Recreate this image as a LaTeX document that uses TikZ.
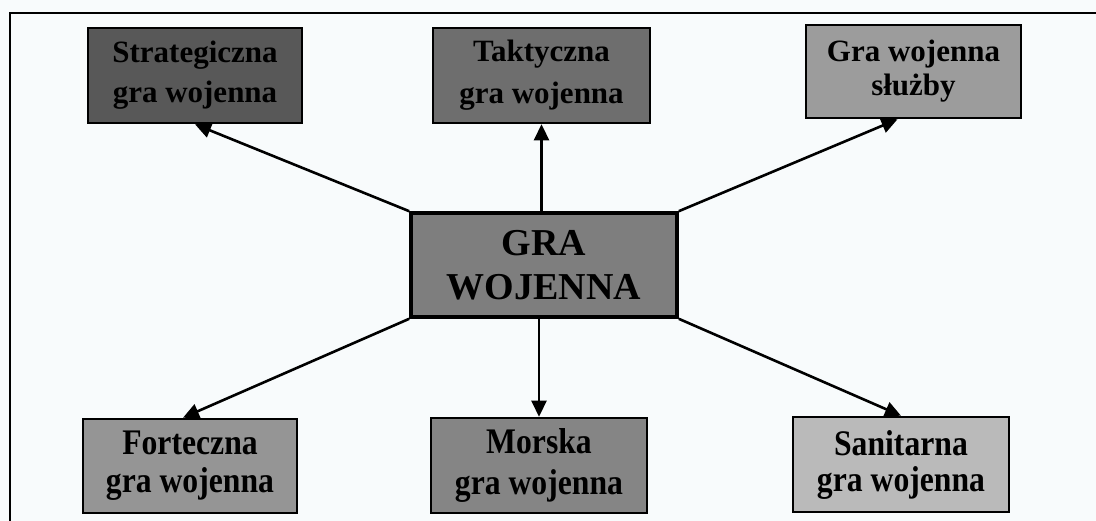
\documentclass[tikz,border=0pt]{standalone}
\usepackage{fontspec}
\setmainfont{Liberation Serif}
\newfontfamily\condserif[FakeStretch=0.88]{Liberation Serif}
\usetikzlibrary{arrows.meta}
\definecolor{bgpaper}{HTML}{F8FBFC}
\definecolor{fstrat}{HTML}{585858}
\definecolor{ftakt}{HTML}{6E6E6E}
\definecolor{fsluz}{HTML}{9C9C9C}
\definecolor{fcent}{HTML}{7E7E7E}
\definecolor{ffort}{HTML}{959595}
\definecolor{fmors}{HTML}{858585}
\definecolor{fsani}{HTML}{BABABA}
\begin{document}
\begin{tikzpicture}[x=1pt,y=-1pt,
  gbox/.style={draw=black, line width=2.6pt, inner sep=0pt, align=center, text=black},
  topfont/.style={font=\fontsize{31}{#1}\selectfont\bfseries},
  botfont/.style={font=\condserif\fontsize{36}{#1}\selectfont\bfseries},
  arr/.style={draw=black, line width=2.6pt, -{Triangle[length=16pt,width=15pt]}}]
\fill[bgpaper] (0,0) rectangle (1096,521);
\useasboundingbox (0,0) rectangle (1096,521);
\draw[line width=2.4pt] (10,521) -- (10,13) -- (1096,13);

\node[gbox, fill=fstrat, topfont=40, minimum width=214pt, minimum height=95pt] (strat) at (195,75.5) {Strategiczna\\gra wojenna};
\node[gbox, fill=ftakt, topfont=42, minimum width=217pt, minimum height=95pt] (takt) at (541.5,75.5) {Taktyczna\\gra wojenna};
\node[gbox, fill=fsluz, topfont=34, minimum width=215pt, minimum height=93pt] (sluz) at (913.5,71.5) {Gra wojenna\\służby};
\node[gbox, fill=fcent, line width=3.6pt, font=\fontsize{38}{44}\selectfont\bfseries, minimum width=266pt, minimum height=104pt] (cent) at (544,265) {GRA\\WOJENNA};
\node[gbox, fill=ffort, botfont=38, minimum width=214pt, minimum height=94pt] (fort) at (190,466) {Forteczna\\gra wojenna};
\node[gbox, fill=fmors, botfont=41, minimum width=216pt, minimum height=95pt] (mors) at (539,465.5) {Morska\\gra wojenna};
\node[gbox, fill=fsani, botfont=36, minimum width=216pt, minimum height=95pt] (sani) at (901,464.5) {Sanitarna\\gra wojenna};

\draw[arr] (cent.north west) -- (strat.south);
\draw[arr] (takt.south |- cent.north) -- (takt.south);
\draw[arr] (cent.north east) -- ([xshift=-16pt]sluz.south);
\draw[arr] (cent.south west) -- ([xshift=-7pt]fort.north);
\draw[arr] (mors.north |- cent.south) -- (mors.north);
\draw[arr] (cent.south east) -- (sani.north);
\end{tikzpicture}
\end{document}
